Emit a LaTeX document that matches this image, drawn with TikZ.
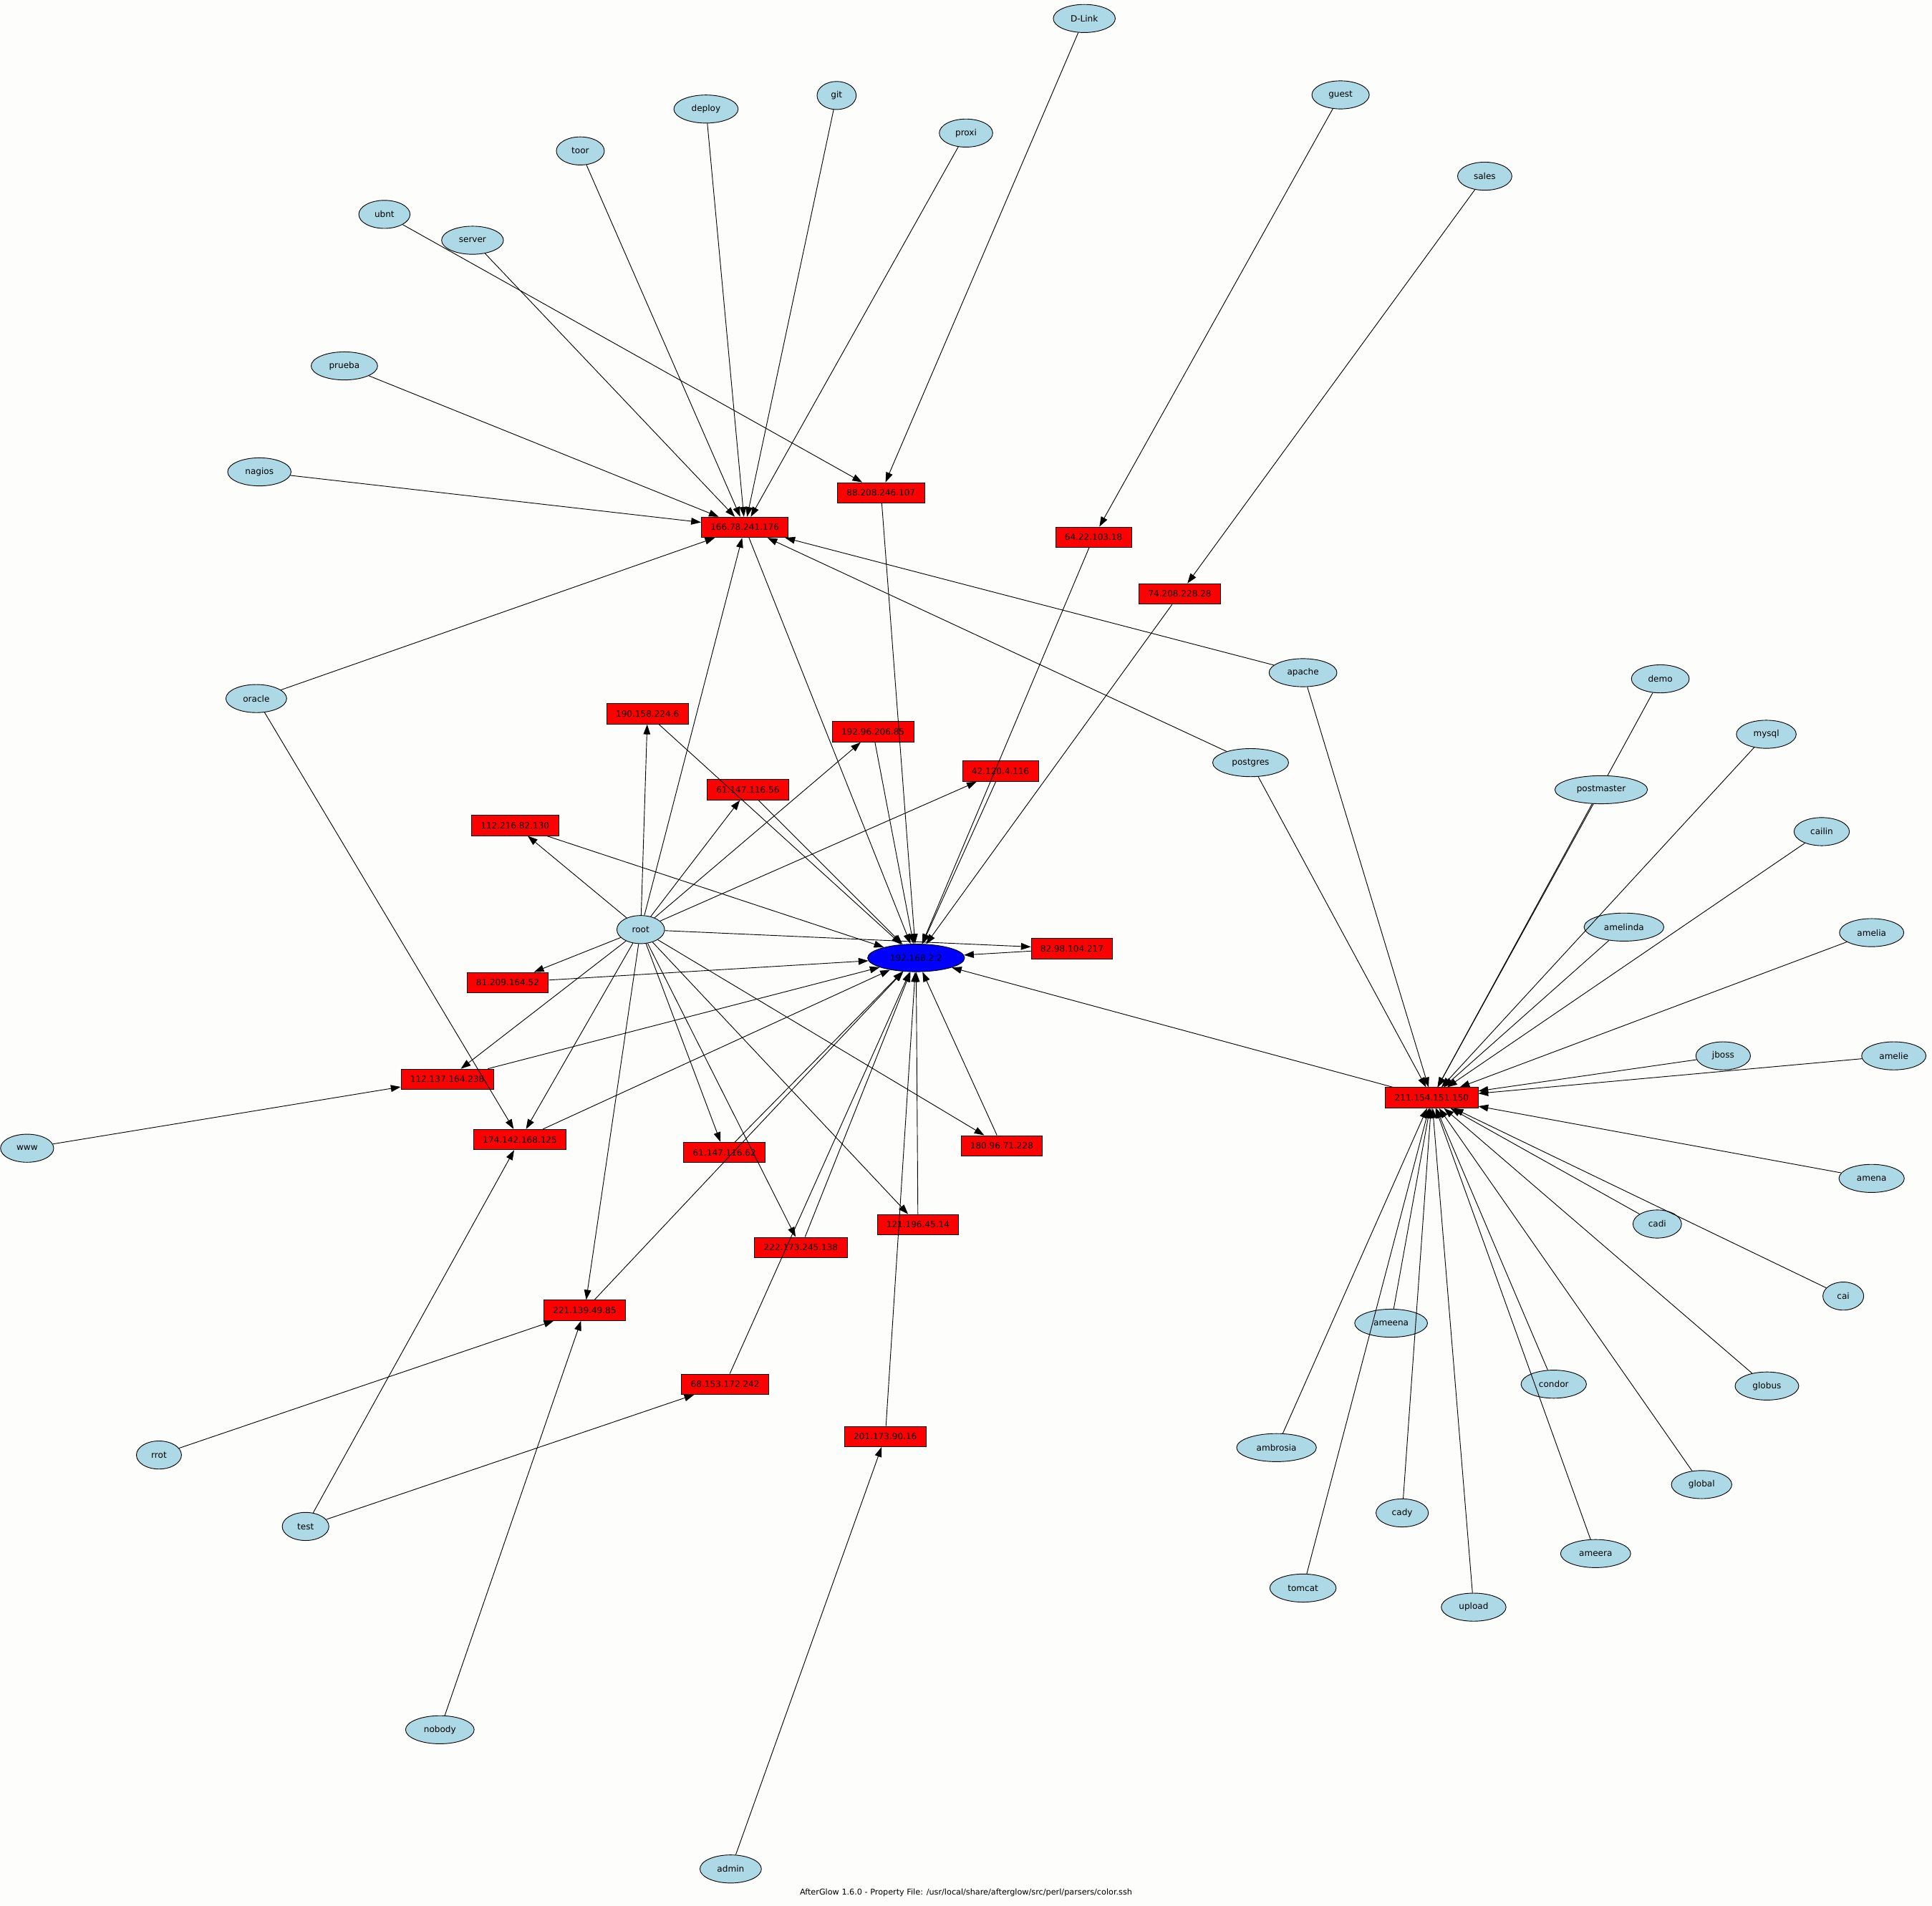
\documentclass[tikz,border=0pt]{standalone}
\usepackage{fontspec}
\setmainfont{DejaVu Sans}
\usetikzlibrary{shapes.geometric,arrows.meta}
\pgfdeclarelayer{behind}
\pgfsetlayers{behind,main}
\definecolor{userblue}{RGB}{173,216,230}
\definecolor{paper}{RGB}{253,254,252}
\tikzset{every picture/.style={line width=0.45pt}}
\tikzset{
  user/.style={ellipse,draw,fill=userblue,inner xsep=5pt,inner ysep=1.5pt,minimum height=17.1pt,font=\fontsize{5.25}{6}\selectfont},
  addr/.style={rectangle,draw,fill=red,inner xsep=5.6pt,inner ysep=1pt,minimum height=12.4pt,font=\fontsize{5.25}{6}\selectfont},
  local/.style={ellipse,draw,fill=blue,inner xsep=5pt,inner ysep=1.5pt,minimum height=16.8pt,font=\fontsize{5.25}{6}\selectfont},
  link/.style={-{Triangle[length=6pt,width=4.2pt]}}
}

\begin{document}
\begin{tikzpicture}[x=0.75pt,y=0.75pt,yscale=-1,xscale=1]
  %set diagram left start at 0, and has height of 1547
  \begin{pgfonlayer}{behind}
    \fill[paper] (0,0) rectangle (1568,1547);
  \end{pgfonlayer}
  \useasboundingbox (0,0) rectangle (1568,1547);

  %Users
  \node[user] (dlink) at (880,15) {D-Link};
  \node[user] (guest) at (1088,77) {guest};
  \node[user] (git) at (679,77.5) {git};
  \node[user] (deploy) at (573,88.5) {deploy};
  \node[user] (proxi) at (784,108) {proxi};
  \node[user] (toor) at (471,122.5) {toor};
  \node[user] (sales) at (1205,143) {sales};
  \node[user] (ubnt) at (312,174) {ubnt};
  \node[user] (server) at (383.5,195) {server};
  \node[user] (prueba) at (279.5,297) {prueba};
  \node[user] (nagios) at (210.5,383) {nagios};
  \node[user] (oracle) at (208,567) {oracle};
  \node[user] (apache) at (1057.5,546) {apache};
  \node[user] (demo) at (1347.5,551) {demo};
  \node[user] (mysql) at (1433.5,596) {mysql};
  \node[user] (postgres) at (1015,619) {postgres};
  \node[user] (postmaster) at (1299.5,641) {postmaster};
  \node[user] (cailin) at (1478.5,675) {cailin};
  \node[user] (root) at (520,754.5) {root};
  \node[user] (amelinda) at (1318,752.5) {amelinda};
  \node[user] (amelia) at (1519,757) {amelia};
  \node[user] (jboss) at (1398.5,857) {jboss};
  \node[user] (amelie) at (1537,857) {amelie};
  \node[user] (www) at (22,932) {www};
  \node[user] (amena) at (1519,956.5) {amena};
  \node[user] (cadi) at (1345,993.5) {cadi};
  \node[user] (cai) at (1496,1052) {cai};
  \node[user] (ameena) at (1129,1074) {ameena};
  \node[user] (condor) at (1261,1123.5) {condor};
  \node[user] (globus) at (1434,1125) {globus};
  \node[user] (ambrosia) at (1036,1175) {ambrosia};
  \node[user] (rrot) at (129,1181) {rrot};
  \node[user] (global) at (1381,1205) {global};
  \node[user] (cady) at (1138,1228) {cady};
  \node[user] (test) at (248,1239) {test};
  \node[user] (ameera) at (1295,1261) {ameera};
  \node[user] (tomcat) at (1057.5,1289) {tomcat};
  \node[user] (upload) at (1196,1304.5) {upload};
  \node[user] (nobody) at (357,1404) {nobody};
  \node[user] (admin) at (593,1517) {admin};

  %Addresses
  \node[addr] (ip166) at (604.5,428) {166.78.241.176};
  \node[addr] (ip88) at (715,400) {88.208.246.107};
  \node[addr] (ip64) at (887.5,436) {64.22.103.18};
  \node[addr] (ip74) at (957.5,482) {74.208.228.28};
  \node[addr] (ip190) at (525.5,579.5) {190.158.224.6};
  \node[addr] (ip192) at (708.5,594) {192.96.206.85};
  \node[addr] (ip61a) at (607,641) {61.147.116.56};
  \node[addr] (ip42) at (812,626) {42.120.4.116};
  \node[addr] (ip112a) at (418,670) {112.216.82.130};
  \node[addr] (ip82) at (870,770) {82.98.104.217};
  \node[addr] (ip81) at (412,797.5) {81.209.164.52};
  \node[addr] (ip112b) at (363,876) {112.137.164.238};
  \node[addr] (ip174) at (422,925) {174.142.168.125};
  \node[addr] (ip61b) at (588,935.5) {61.147.116.62};
  \node[addr] (ip180) at (813,930) {180.96.71.228};
  \node[addr] (ip121) at (745,994) {121.196.45.14};
  \node[addr] (ip222) at (650,1012.5) {222.173.245.138};
  \node[addr] (ip221) at (474.5,1063.5) {221.139.49.85};
  \node[addr] (ip68) at (588.5,1123.5) {68.153.172.242};
  \node[addr] (ip201) at (718.5,1166) {201.173.90.16};
  \node[addr] (ip211) at (1162,891) {211.154.151.150};
  \node[local] (host) at (743.5,777.5) {192.168.2.2};

  %Straight Lines to 166.78.241.176
  \draw[link] (nagios) -- (ip166);
  \draw[link] (prueba) -- (ip166);
  \draw[link] (server) -- (ip166);
  \draw[link] (toor) -- (ip166);
  \draw[link] (deploy) -- (ip166);
  \draw[link] (git) -- (ip166);
  \draw[link] (proxi) -- (ip166);
  \draw[link] (oracle) -- (ip166);
  \draw[link] (root) -- (ip166);
  \draw[link] (apache) -- (ip166);
  \draw[link] (postgres) -- (ip166);
  %Straight Lines to the other addresses
  \draw[link] (ubnt) -- (ip88);
  \draw[link] (dlink) -- (ip88);
  \draw[link] (guest) -- (ip64);
  \draw[link] (sales) -- (ip74);
  \draw[link] (root) -- (ip190);
  \draw[link] (root) -- (ip192);
  \draw[link] (root) -- (ip61a);
  \draw[link] (root) -- (ip42);
  \draw[link] (root) -- (ip112a);
  \draw[link] (root) -- (ip82);
  \draw[link] (root) -- (ip81);
  \draw[link] (root) -- (ip112b);
  \draw[link] (root) -- (ip174);
  \draw[link] (root) -- (ip61b);
  \draw[link] (root) -- (ip180);
  \draw[link] (root) -- (ip121);
  \draw[link] (root) -- (ip222);
  \draw[link] (root) -- (ip221);
  \draw[link] (www) -- (ip112b);
  \draw[link] (oracle) -- (ip174);
  \draw[link] (test) -- (ip174);
  \draw[link] (test) -- (ip68);
  \draw[link] (rrot) -- (ip221);
  \draw[link] (nobody) -- (ip221);
  \draw[link] (admin) -- (ip201);
  %Straight Lines to 192.168.2.2
  \draw[link] (ip166) -- (host);
  \draw[link] (ip88) -- (host);
  \draw[link] (ip64) -- (host);
  \draw[link] (ip74) -- (host);
  \draw[link] (ip190) -- (host);
  \draw[link] (ip192) -- (host);
  \draw[link] (ip61a) -- (host);
  \draw[link] (ip42) -- (host);
  \draw[link] (ip112a) -- (host);
  \draw[link] (ip82) -- (host);
  \draw[link] (ip81) -- (host);
  \draw[link] (ip112b) -- (host);
  \draw[link] (ip174) -- (host);
  \draw[link] (ip61b) -- (host);
  \draw[link] (ip180) -- (host);
  \draw[link] (ip121) -- (host);
  \draw[link] (ip222) -- (host);
  \draw[link] (ip221) -- (host);
  \draw[link] (ip68) -- (host);
  \draw[link] (ip201) -- (host);
  \draw[link] (ip211) -- (host);
  %Straight Lines to 211.154.151.150
  \draw[link] (apache) -- (ip211);
  \draw[link] (postgres) -- (ip211);
  \begin{pgfonlayer}{behind}
    \draw[link] (demo) -- (ip211);
  \end{pgfonlayer}
  \draw[link] (postmaster) -- (ip211);
  \draw[link] (mysql) -- (ip211);
  \draw[link] (cailin) -- (ip211);
  \draw[link] (amelinda) -- (ip211);
  \draw[link] (amelia) -- (ip211);
  \draw[link] (jboss) -- (ip211);
  \draw[link] (amelie) -- (ip211);
  \draw[link] (amena) -- (ip211);
  \draw[link] (cadi) -- (ip211);
  \draw[link] (cai) -- (ip211);
  \draw[link] (globus) -- (ip211);
  \draw[link] (global) -- (ip211);
  \draw[link] (condor) -- (ip211);
  \draw[link] (ameera) -- (ip211);
  \draw[link] (upload) -- (ip211);
  \draw[link] (cady) -- (ip211);
  \draw[link] (ameena) -- (ip211);
  \draw[link] (tomcat) -- (ip211);
  \draw[link] (ambrosia) -- (ip211);

  %Caption
  \node[font=\fontsize{4.9}{5.5}\selectfont] (caption) at (784,1536) {AfterGlow 1.6.0 - Property File: /usr/local/share/afterglow/src/perl/parsers/color.ssh};
\end{tikzpicture}
\end{document}
